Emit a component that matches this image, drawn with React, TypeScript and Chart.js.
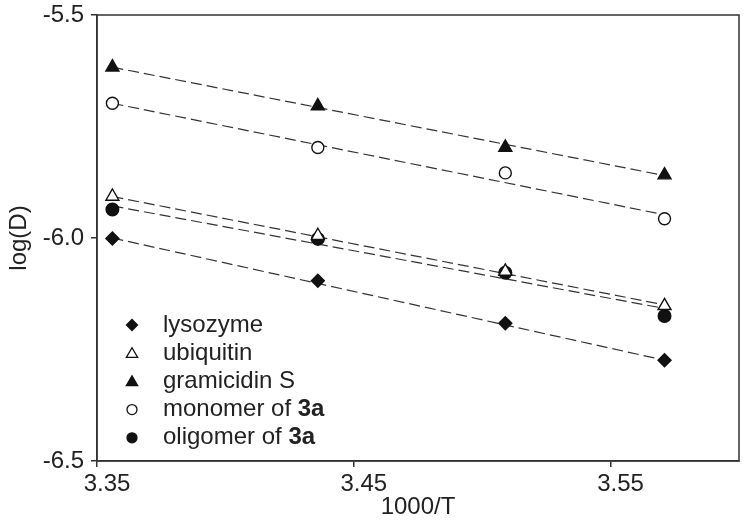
import React, { useEffect, useRef } from "react";
import { Chart, registerables } from "chart.js";

Chart.register(...registerables);

// 1000/T values of the four measurements
const xValues = [3.356, 3.436, 3.509, 3.571];
// log(D) values
const lysozyme = [-6.001, -6.096, -6.191, -6.274];
const ubiquitin = [-5.907, -5.995, -6.075, -6.152];
const gramicidinS = [-5.617, -5.704, -5.797, -5.859];
const monomer3a = [-5.698, -5.797, -5.854, -5.957];
const oligomer3a = [-5.936, -6.002, -6.078, -6.175];

// dashed fit lines: value at first and last x
const fitX = [3.356, 3.571];
const lysozymeFit = [-6.0, -6.274];
const ubiquitinFit = [-5.907, -6.15];
const gramicidinFit = [-5.617, -5.86];
const monomerFit = [-5.698, -5.948];
const oligomerFit = [-5.928, -6.158];

const xTicks = [3.35, 3.45, 3.55];
const yTicks = [-6.5, -6.0, -5.5];

const legendItems = [
  { label: "lysozyme", bold: "", style: "diamond", filled: true },
  { label: "ubiquitin", bold: "", style: "triangle", filled: false },
  { label: "gramicidin S", bold: "", style: "triangle", filled: true },
  { label: "monomer of ", bold: "3a", style: "circle", filled: false },
  { label: "oligomer of ", bold: "3a", style: "circle", filled: true },
];

const FONT = "'Liberation Sans', Arial, Helvetica, sans-serif";
const INK = "#111";
const AXIS = "#333";

function pts(ys: number[], xs: number[]) {
  return ys.map((y, i) => ({ x: xs[i], y }));
}

function drawMarker(ctx: CanvasRenderingContext2D, style: string, filled: boolean, x: number, y: number, r: number) {
  ctx.save();
  ctx.beginPath();
  if (style === "diamond") {
    ctx.moveTo(x - r, y);
    ctx.lineTo(x, y - r);
    ctx.lineTo(x + r, y);
    ctx.lineTo(x, y + r);
    ctx.closePath();
  } else if (style === "triangle") {
    const h = r;
    ctx.moveTo(x, y - h);
    ctx.lineTo(x + h * 0.866, y + h * 0.5);
    ctx.lineTo(x - h * 0.866, y + h * 0.5);
    ctx.closePath();
  } else {
    ctx.arc(x, y, r, 0, Math.PI * 2);
  }
  ctx.fillStyle = filled ? INK : "#fff";
  ctx.fill();
  ctx.lineWidth = 1.3;
  ctx.strokeStyle = INK;
  ctx.stroke();
  ctx.restore();
}

const boxAndLegend = {
  id: "boxAndLegend",
  afterDraw(chart: any) {
    const { ctx, chartArea } = chart;
    ctx.save();
    ctx.strokeStyle = AXIS;
    ctx.lineWidth = 1.5;
    ctx.strokeRect(chartArea.left, chartArea.top, chartArea.right - chartArea.left, chartArea.bottom - chartArea.top);

    const mx = 132;
    const tx = 163;
    const y0 = 325;
    const dy = 28.2;
    ctx.textBaseline = "middle";
    ctx.fillStyle = "#222";
    legendItems.forEach((it, i) => {
      const y = y0 + i * dy;
      const r = it.style === "triangle" ? 6.5 : it.style === "diamond" ? 5.5 : 5;
      drawMarker(ctx, it.style, it.filled, mx, y + (it.style === "triangle" ? 1 : 0), r);
      ctx.font = `24px ${FONT}`;
      ctx.fillText(it.label, tx, y);
      if (it.bold) {
        const w = ctx.measureText(it.label).width;
        ctx.font = `bold 24px ${FONT}`;
        ctx.fillText(it.bold, tx + w, y);
      }
    });
    ctx.restore();
  },
};

export default function App() {
  const ref = useRef<HTMLCanvasElement>(null);

  useEffect(() => {
    if (!ref.current) return;
    const fitLine = (ys: number[]) => ({
      data: pts(ys, fitX),
      showLine: true,
      borderColor: "#333",
      borderWidth: 1.2,
      borderDash: [11, 5],
      pointRadius: 0,
      order: 10,
    });
    const series = (ys: number[], style: string, filled: boolean, r: number) => ({
      data: pts(ys, xValues),
      showLine: false,
      pointStyle: style,
      pointRadius: r,
      pointBackgroundColor: filled ? INK : "#fff",
      pointBorderColor: INK,
      pointBorderWidth: 1.4,
      order: 1,
    });
    const chart = new Chart(ref.current, {
      type: "scatter",
      data: {
        datasets: [
          fitLine(lysozymeFit),
          fitLine(ubiquitinFit),
          fitLine(gramicidinFit),
          fitLine(monomerFit),
          fitLine(oligomerFit),
          series(lysozyme, "rectRot", true, 6.5),
          series(ubiquitin, "triangle", false, 7.5),
          series(gramicidinS, "triangle", true, 7.5),
          series(monomer3a, "circle", false, 6),
          series(oligomer3a, "circle", true, 6.3),
        ] as any,
      },
      options: {
        responsive: false,
        animation: false,
        events: [],
        layout: { padding: { left: 0, top: 15, right: 11, bottom: 0 } },
        plugins: { legend: { display: false }, tooltip: { enabled: false } },
        scales: {
          x: {
            type: "linear",
            min: 3.35,
            max: 3.6,
            afterBuildTicks: (s: any) => {
              s.ticks = xTicks.map((v) => ({ value: v }));
            },
            afterFit: (s: any) => {
              s.height = 62;
              s.paddingLeft = 0;
              s.paddingRight = 0;
            },
            grid: { display: true, drawOnChartArea: false, drawTicks: true, tickLength: 6, color: AXIS, lineWidth: 1.5 },
            border: { display: true, color: AXIS, width: 1.5 },
            ticks: {
              color: "#222",
              font: { family: FONT, size: 24 },
              padding: 3,
              labelOffset: 10,
              maxRotation: 0,
              callback: (v: any) => Number(v).toFixed(2),
            },
            title: {
              display: true,
              text: "1000/T",
              color: "#222",
              font: { family: FONT, size: 24 },
              padding: { top: 0, bottom: 1 },
            },
          },
          y: {
            type: "linear",
            min: -6.5,
            max: -5.5,
            afterBuildTicks: (s: any) => {
              s.ticks = yTicks.map((v) => ({ value: v }));
            },
            afterFit: (s: any) => {
              s.width = 97;
              s.paddingTop = 0;
              s.paddingBottom = 0;
            },
            grid: { display: true, drawOnChartArea: false, drawTicks: true, tickLength: 6, color: AXIS, lineWidth: 1.5 },
            border: { display: true, color: AXIS, width: 1.5 },
            ticks: {
              color: "#222",
              font: { family: FONT, size: 24 },
              padding: 7,
              callback: (v: any) => Number(v).toFixed(1),
            },
            title: {
              display: true,
              text: "log(D)",
              color: "#222",
              font: { family: FONT, size: 24 },
              padding: { top: 5, bottom: 0 },
            },
          },
        },
      } as any,
      plugins: [boxAndLegend],
    });
    return () => chart.destroy();
  }, []);

  return (
    <div style={{ position: "absolute", left: 0, top: 0, width: 750, height: 523, background: "#fff" }}>
      <canvas ref={ref} width={750} height={523} style={{ width: 750, height: 523 }} />
    </div>
  );
}
